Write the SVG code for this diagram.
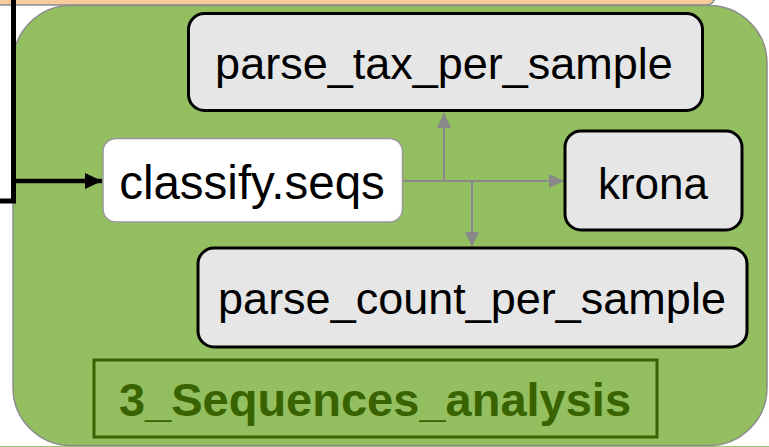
<svg xmlns="http://www.w3.org/2000/svg" width="769" height="447" viewBox="0 0 769 447">
  <defs>
    <style>
      .node { fill: #e6e6e6; stroke: #000; stroke-width: 3; }
      .lbl { font-family: "Liberation Sans", Arial, sans-serif; fill: #000; text-anchor: middle; }
      .conn { stroke: #888; stroke-width: 2; fill: none; }
    </style>
    <marker id="ag" markerUnits="userSpaceOnUse" markerWidth="16" markerHeight="16" viewBox="0 0 16 16" refX="15" refY="8" orient="auto">
      <path d="M0,1 L15,8 L0,15 Z" fill="#888"/>
    </marker>
    <marker id="ab" markerUnits="userSpaceOnUse" markerWidth="18" markerHeight="18" viewBox="0 0 18 18" refX="17" refY="9" orient="auto">
      <path d="M0,1 L17,9 L0,17 Z" fill="#000"/>
    </marker>
  </defs>
  <rect width="769" height="447" fill="#fff"/>
  <!-- box above (cut off) -->
  <path d="M-5,-20 H715 V-5 Q715,5 705,5 H-5 Z" fill="#f9cb9c" stroke="#8c8c8c" stroke-width="1.5"/>
  <!-- box below (cut off) -->
  <rect x="-5" y="446" width="780" height="20" fill="#9cc46a"/>
  <!-- container -->
  <g id="container">
    <rect x="13" y="5.5" width="754" height="440" rx="58" ry="58" fill="#93bf60" stroke="#8c8c8c" stroke-width="1.5"/>
    <rect x="94" y="360" width="563" height="77" fill="none" stroke="#386300" stroke-width="3"/>
    <text x="375" y="416" font-family="'Liberation Sans', Arial, sans-serif" font-weight="bold" font-size="47" fill="#386300" text-anchor="middle">3_Sequences_analysis</text>
  </g>
  <g id="connectors">
    <path d="M13.5,0 V201 H-2" fill="none" stroke="#000" stroke-width="5" stroke-linejoin="miter"/>
    <path d="M13.5,181 H102" fill="none" stroke="#000" stroke-width="4.5" marker-end="url(#ab)"/>
    <path class="conn" d="M403,181 H564" marker-end="url(#ag)"/>
    <path class="conn" d="M444,181 V113" marker-end="url(#ag)"/>
    <path class="conn" d="M472,181 V247" marker-end="url(#ag)"/>
  </g>
  <g id="parse_tax_per_sample">
    <rect class="node" x="188.5" y="13.5" width="514" height="97" rx="16"/>
    <text class="lbl" x="444" y="79" font-size="45">parse_tax_per_sample</text>
  </g>
  <g id="classify_seqs">
    <rect x="103" y="138.5" width="299.5" height="83.5" rx="13" fill="#fff" stroke="#999" stroke-width="1.5"/>
    <text class="lbl" x="252" y="199" font-size="47.5">classify.seqs</text>
  </g>
  <g id="krona">
    <rect class="node" x="565" y="131" width="177" height="99" rx="16"/>
    <text class="lbl" x="653" y="199" font-size="44">krona</text>
  </g>
  <g id="parse_count_per_sample">
    <rect class="node" x="198" y="248" width="549" height="99" rx="16"/>
    <text class="lbl" x="472" y="314" font-size="45">parse_count_per_sample</text>
  </g>
</svg>
